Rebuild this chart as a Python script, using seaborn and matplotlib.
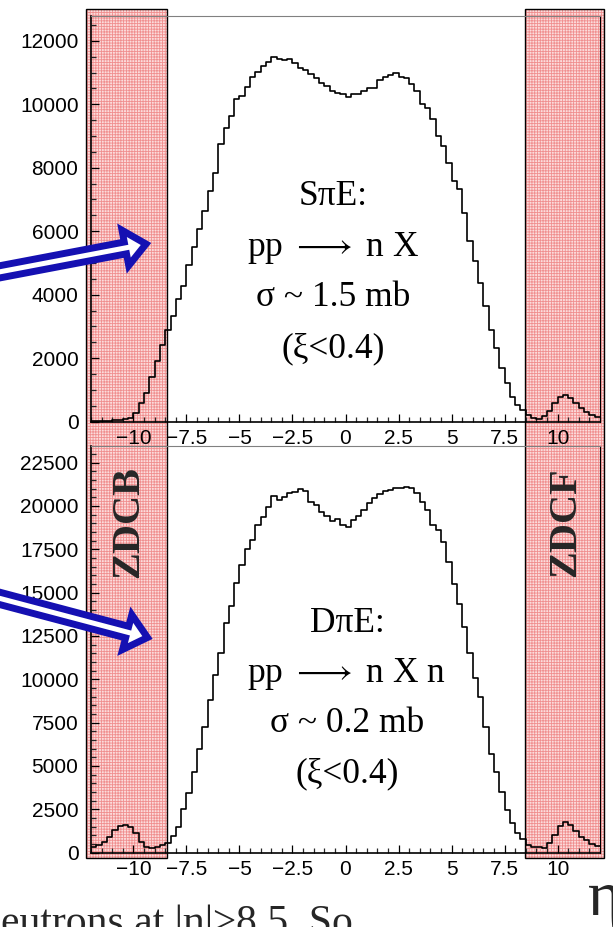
import numpy as np
import pandas as pd
import matplotlib
matplotlib.use("Agg")
import matplotlib.pyplot as plt
import seaborn as sns
from matplotlib.patches import Rectangle, Polygon
from matplotlib.transforms import Affine2D
from matplotlib.ticker import FixedLocator, MultipleLocator

# ---------------- data ----------------
eta_min, eta_max, eta_bin = -12.0, 12.0, 0.25
eta_centers = np.arange(eta_min + eta_bin / 2, eta_max, eta_bin)

spe_counts = [10, 15, 20, 30, 45, 55, 80, 110, 265, 580,
              914, 1418, 1912, 2416, 2889, 3330, 3855, 4275, 4936, 5494,
              6080, 6637, 7277, 7844, 8738, 9242, 9640, 10165, 10260, 10552,
              10849, 11026, 11200, 11320, 11478, 11420, 11400, 11415, 11289, 11132,
              11078, 10953, 10816, 10678, 10574, 10426, 10363, 10322, 10217, 10322,
              10322, 10416, 10501, 10501, 10763, 10848, 10921, 10994, 10867, 10816,
              10650, 10420, 10000, 9870, 9535, 8999, 8684, 8159, 7592, 7330,
              6584, 5702, 5072, 4359, 3645, 2889, 2312, 1701, 1210, 788,
              526, 369, 211, 106, 85, 180, 347, 580, 788, 840,
              736, 598, 422, 315, 211, 158]

dpe_counts = [300, 433, 625, 914, 1298, 1529, 1587, 1452, 1144, 625,
              337, 240, 300, 420, 560, 972, 1491, 2495, 3418, 4664,
              5954, 7262, 8799, 10242, 11530, 13261, 14224, 15569, 16589, 17495,
              18050, 18897, 19341, 19953, 20570, 20339, 20495, 20726, 20820, 20957,
              20876, 20242, 20051, 19665, 19416, 19145, 19222, 18897, 18799, 19185,
              19416, 19763, 20184, 20436, 20686, 20859, 20917, 21013, 21051, 21109,
              21013, 20750, 20200, 19763, 18897, 18608, 17935, 16781, 15493, 14340,
              13030, 11493, 10050, 8953, 7262, 5685, 4664, 3510, 2452, 1683,
              1144, 760, 433, 337, 298, 240, 529, 1010, 1529, 1779,
              1587, 1260, 914, 721, 490, 375]

eta_ticks = [-10, -7.5, -5, -2.5, 0, 2.5, 5, 7.5, 10]
eta_ticklabels = ["\u221210", "\u22127.5", "\u22125", "\u22122.5", "0", "2.5", "5", "7.5", "10"]
spe_yticks = [0, 2000, 4000, 6000, 8000, 10000, 12000]
dpe_yticks = [0, 2500, 5000, 7500, 10000, 12500, 15000, 17500, 20000, 22500]

spe_lines = ["S\u03c0E:", "pp $\\longrightarrow$ n X", "\u03c3 ~ 1.5 mb", "(\u03be<0.4)"]
dpe_lines = ["D\u03c0E:", "pp $\\longrightarrow$ n X n", "\u03c3 ~ 0.2 mb", "(\u03be<0.4)"]

# ---------------- figure ----------------
sns.set_style("ticks")
plt.rcParams["font.family"] = ["Liberation Sans", "DejaVu Sans"]
plt.rcParams["hatch.linewidth"] = 0.6
plt.rcParams["mathtext.fontset"] = "stix"
serif = ["Liberation Serif", "DejaVu Serif"]

W, H = 613, 927
fig = plt.figure(figsize=(W / 100, H / 100), dpi=100)
fig.patch.set_facecolor("white")
px = Affine2D().scale(1 / W, -1 / H).translate(0, 1) + fig.transFigure

X0, X1 = 91, 600


def make_axes(top, bottom):
    ax = fig.add_axes([X0 / W, 1 - bottom / H, (X1 - X0) / W, (bottom - top) / H])
    ax.set_facecolor("none")
    return ax


ax1 = make_axes(15.7, 421.7)
ax2 = make_axes(446, 852.5)

# pink ZDC bands (behind the axes)
for (xa, xb) in [(86, 166.5), (524.5, 604)]:
    fig.add_artist(Rectangle((xa, 9), xb - xa, 849, transform=px, facecolor="#fcdcdc",
                             edgecolor="#f08f8f", hatch="++++++", linewidth=0, zorder=-2))
    fig.add_artist(Rectangle((xa, 9), xb - xa, 849, transform=px, facecolor="none",
                             edgecolor="black", linewidth=1.0, zorder=-1))

for ax, counts, ymax, yt in [(ax1, spe_counts, 12790, spe_yticks), (ax2, dpe_counts, 23460, dpe_yticks)]:
    df = pd.DataFrame({"eta": eta_centers, "n": counts})
    sns.histplot(data=df, x="eta", weights="n", binwidth=eta_bin, binrange=(eta_min, eta_max),
                 element="step", fill=False, color="black", linewidth=1.2, ax=ax)
    ax.set_xlim(eta_min, eta_max)
    ax.set_ylim(0, ymax)
    ax.set_xlabel("")
    ax.set_ylabel("")
    ax.xaxis.set_major_locator(FixedLocator(eta_ticks))
    ax.set_xticklabels(eta_ticklabels)
    ax.xaxis.set_minor_locator(MultipleLocator(0.5))
    ax.yaxis.set_major_locator(FixedLocator(yt))
    ax.set_yticklabels([str(v) for v in yt])
    ax.yaxis.set_minor_locator(MultipleLocator(500))
    ax.tick_params(axis="both", which="major", direction="in", length=6, width=0.9,
                   labelsize=15, colors="black", top=False, right=False)
    ax.tick_params(axis="both", which="minor", direction="in", length=3.5, width=0.9,
                   top=False, right=False)
    ax.tick_params(axis="y", which="major", pad=9)
    ax.tick_params(axis="x", which="major", pad=5.5)
    for s in ["left", "bottom"]:
        ax.spines[s].set_linewidth(1.2)
        ax.spines[s].set_color("black")
    ax.spines["top"].set_color("#808080")
    ax.spines["top"].set_linewidth(0.8)
    ax.spines["right"].set_color("black")
    ax.spines["right"].set_linewidth(0.8)

# text blocks
for lines, xc, bases in [(spe_lines, 333, [205, 256, 306, 357]),
                         (dpe_lines, 347, [632, 682, 732, 782])]:
    for t, yb in zip(lines, bases):
        fig.text(xc, yb, t, transform=px, ha="center", va="baseline", fontsize=25.5,
                 family=serif, color="black")

fig.text(128.5, 522, "ZDCB", transform=px, rotation=90, ha="center", va="center",
         fontsize=29, fontweight="bold", family=serif)
fig.text(566, 522, "ZDCF", transform=px, rotation=90, ha="center", va="center",
         fontsize=29, fontweight="bold", family=serif)


# hollow blue arrows
def arrow_poly(tail, tip, shaft_w, head_w, head_len):
    tail = np.array(tail, float)
    tip = np.array(tip, float)
    d = tip - tail
    u = d / np.hypot(*d)
    n = np.array([-u[1], u[0]])
    base = tip - u * head_len
    return [tail + n * shaft_w, base + n * shaft_w, base + n * head_w, tip,
            base - n * head_w, base - n * shaft_w, tail - n * shaft_w]


for tail, tip in [((-30, 277.5), (146, 244)), ((-30, 590.5), (147.5, 637.5))]:
    fig.add_artist(Polygon(arrow_poly(tail, tip, 6, 18, 21), closed=True, transform=px,
                           facecolor="white", edgecolor="#1510b2", linewidth=5.0,
                           joinstyle="miter", zorder=5))

# slide text fragments
fig.text(1, 934, "eutrons at |\u03b7|\u22658.5. So", transform=px, ha="left", va="baseline",
         fontsize=30, family=serif)
fig.text(588, 915, "\u03b7", transform=px, ha="left", va="baseline", fontsize=46, family=serif)

fig.savefig("out.png", dpi=100)
